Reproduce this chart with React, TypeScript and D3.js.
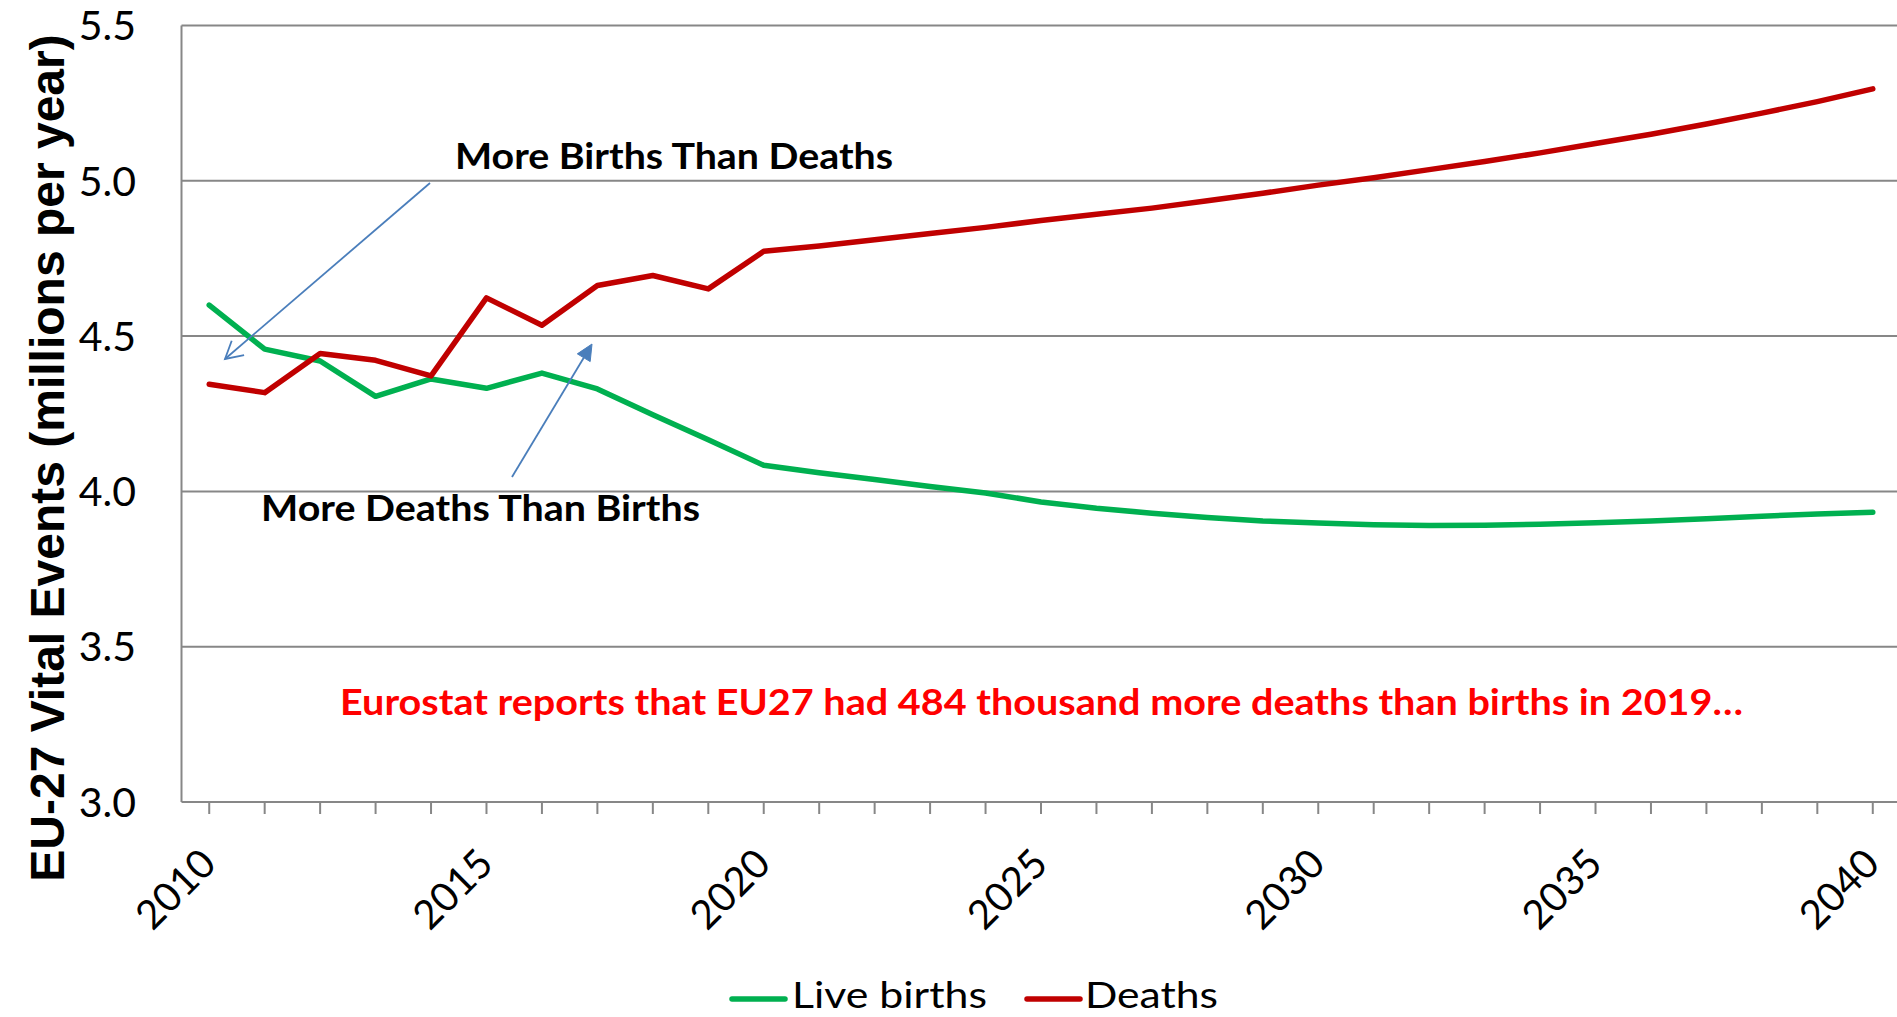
import React, { useEffect, useRef } from "react";
import * as d3 from "d3";

// categories (years)
const years = [
  2010, 2011, 2012, 2013, 2014, 2015, 2016, 2017, 2018, 2019, 2020,
  2021, 2022, 2023, 2024, 2025, 2026, 2027, 2028, 2029, 2030,
  2031, 2032, 2033, 2034, 2035, 2036, 2037, 2038, 2039, 2040,
];

// millions per year
const liveBirths = [
  4.60, 4.458, 4.42, 4.306, 4.362, 4.332, 4.381, 4.33, 4.247, 4.166, 4.084,
  4.06, 4.038, 4.016, 3.995, 3.966, 3.946, 3.93, 3.916, 3.905, 3.898,
  3.893, 3.89, 3.891, 3.894, 3.899, 3.905, 3.912, 3.92, 3.927, 3.933,
];
const deaths = [
  4.345, 4.318, 4.444, 4.422, 4.372, 4.623, 4.535, 4.663, 4.695, 4.652, 4.773,
  4.79, 4.81, 4.83, 4.85, 4.872, 4.892, 4.912, 4.936, 4.96, 4.986,
  5.01, 5.036, 5.062, 5.09, 5.12, 5.15, 5.183, 5.218, 5.255, 5.296,
];

const yTicks = [3.0, 3.5, 4.0, 4.5, 5.0, 5.5];
const xLabelYears = [2010, 2015, 2020, 2025, 2030, 2035, 2040];

const seriesNames = ["Live births", "Deaths"];
const seriesColors = ["#00B050", "#C00000"];

const yTitle = "EU-27 Vital Events (millions per year)";
const noteText =
  "Eurostat reports that EU27 had 484 thousand more deaths than births in 2019\u2026";

function App() {
  const svgRef = useRef(null);

  useEffect(() => {
    const W = 1897;
    const H = 1017;
    const plot = { left: 181.5, right: 1900.5, top: 25.5, bottom: 802 };
    const grid = "#878787";
    const arrowBlue = "#4A7EBB";
    const font = "Lato, 'Open Sans', sans-serif";

    const svg = d3.select(svgRef.current);
    svg.selectAll("*").remove();
    svg.attr("width", W).attr("height", H).attr("viewBox", `0 0 ${W} ${H}`);

    svg.append("rect").attr("width", W).attr("height", H).attr("fill", "#fff");

    // category axis, Excel style (points in the middle of each band)
    const xScale = d3
      .scalePoint()
      .domain(years)
      .range([plot.left, plot.right])
      .padding(0.5);

    const yScale = d3.scaleLinear().domain([3, 5.5]).range([plot.bottom, plot.top]);

    // horizontal gridlines
    svg
      .append("g")
      .selectAll("line")
      .data(yTicks)
      .join("line")
      .attr("x1", plot.left)
      .attr("x2", W)
      .attr("y1", (d) => yScale(d))
      .attr("y2", (d) => yScale(d))
      .attr("stroke", grid)
      .attr("stroke-width", 2);

    // left axis line
    svg
      .append("line")
      .attr("x1", plot.left)
      .attr("x2", plot.left)
      .attr("y1", plot.top)
      .attr("y2", plot.bottom)
      .attr("stroke", grid)
      .attr("stroke-width", 2);

    // y tick labels
    svg
      .append("g")
      .selectAll("text")
      .data(yTicks)
      .join("text")
      .attr("x", 136)
      .attr("y", (d) => yScale(d))
      .attr("dy", "0.36em")
      .attr("text-anchor", "end")
      .attr("font-family", font)
      .attr("font-size", 41)
      .attr("fill", "#000")
      .text((d) => d3.format(".1f")(d));

    // x tick marks
    svg
      .append("g")
      .selectAll("line")
      .data(years)
      .join("line")
      .attr("x1", (d) => xScale(d))
      .attr("x2", (d) => xScale(d))
      .attr("y1", plot.bottom)
      .attr("y2", plot.bottom + 12)
      .attr("stroke", grid)
      .attr("stroke-width", 2);

    // x tick labels, rotated 45 degrees
    svg
      .append("g")
      .selectAll("text")
      .data(xLabelYears)
      .join("text")
      .attr("transform", (d) => `translate(${xScale(d) + 9},${866}) rotate(-45)`)
      .attr("text-anchor", "end")
      .attr("font-family", font)
      .attr("font-size", 40)
      .attr("fill", "#000")
      .text((d) => d);

    // y axis title
    svg
      .append("text")
      .attr("transform", "translate(64,458) rotate(-90)")
      .attr("text-anchor", "middle")
      .attr("font-family", "'Liberation Sans', Arial, sans-serif")
      .attr("font-weight", "bold")
      .attr("font-size", 48)
      .attr("fill", "#000")
      .text(yTitle);

    // series lines
    const line = d3
      .line()
      .x((d, i) => xScale(years[i]))
      .y((d) => yScale(d));

    [liveBirths, deaths].forEach((values, k) => {
      svg
        .append("path")
        .attr("d", line(values))
        .attr("fill", "none")
        .attr("stroke", seriesColors[k])
        .attr("stroke-width", 5.5)
        .attr("stroke-linejoin", "round")
        .attr("stroke-linecap", "round");
    });

    // annotations
    const addLabel = (txt, x, y, len, color) =>
      svg
        .append("text")
        .attr("x", x)
        .attr("y", y)
        .attr("textLength", len)
        .attr("lengthAdjust", "spacingAndGlyphs")
        .attr("font-family", font)
        .attr("font-weight", "bold")
        .attr("font-size", 36)
        .attr("fill", color)
        .text(txt);

    addLabel("More Births Than Deaths", 455, 169, 438, "#000");
    addLabel("More Deaths Than Births", 261, 521, 439, "#000");
    addLabel(noteText, 340, 715, 1403, "#FF0000");

    // arrow heads
    const head = (x0, y0, x1, y1, len, half) => {
      const dx = x1 - x0;
      const dy = y1 - y0;
      const l = Math.hypot(dx, dy);
      const ux = dx / l;
      const uy = dy / l;
      const bx = x1 - ux * len;
      const by = y1 - uy * len;
      return [
        [bx - uy * half, by + ux * half],
        [x1, y1],
        [bx + uy * half, by - ux * half],
      ];
    };

    // arrow to the "more births" zone (open head)
    svg
      .append("line")
      .attr("x1", 430)
      .attr("y1", 183)
      .attr("x2", 225)
      .attr("y2", 359)
      .attr("stroke", arrowBlue)
      .attr("stroke-width", 1.8);
    svg
      .append("path")
      .attr("d", d3.line()(head(430, 183, 225, 359, 17, 9.5)))
      .attr("fill", "none")
      .attr("stroke", arrowBlue)
      .attr("stroke-width", 1.8);

    // arrow to the "more deaths" zone (filled head)
    const h2 = head(512, 477, 592, 344, 16, 7.5);
    svg
      .append("line")
      .attr("x1", 512)
      .attr("y1", 477)
      .attr("x2", (h2[0][0] + h2[2][0]) / 2)
      .attr("y2", (h2[0][1] + h2[2][1]) / 2)
      .attr("stroke", arrowBlue)
      .attr("stroke-width", 1.8);
    svg
      .append("path")
      .attr("d", d3.line()(h2) + "Z")
      .attr("fill", arrowBlue)
      .attr("stroke", arrowBlue)
      .attr("stroke-width", 1);

    // legend
    const legend = [
      { x: 732, textX: 792, len: 195 },
      { x: 1027, textX: 1085, len: 133 },
    ];
    legend.forEach((item, k) => {
      svg
        .append("line")
        .attr("x1", item.x)
        .attr("x2", item.x + 53)
        .attr("y1", 999)
        .attr("y2", 999)
        .attr("stroke", seriesColors[k])
        .attr("stroke-width", 5.5)
        .attr("stroke-linecap", "round");
      svg
        .append("text")
        .attr("x", item.textX)
        .attr("y", 1008)
        .attr("textLength", item.len)
        .attr("lengthAdjust", "spacingAndGlyphs")
        .attr("font-family", font)
        .attr("font-size", 36)
        .attr("fill", "#000")
        .text(seriesNames[k]);
    });
  }, []);

  return (
    <svg
      ref={svgRef}
      style={{ position: "absolute", left: 0, top: 0, display: "block" }}
    />
  );
}

export default App;
